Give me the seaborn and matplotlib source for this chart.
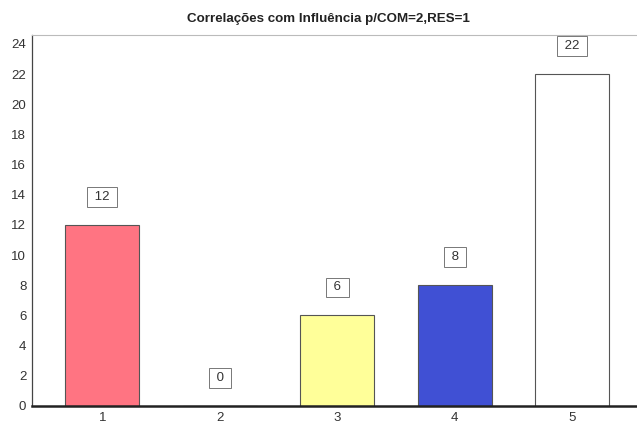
import seaborn as sns
import pandas as pd
import matplotlib.pyplot as plt

sns.set_style("white")
plt.rcParams['font.family'] = ['Liberation Sans', 'DejaVu Sans']

categories = ["1", "2", "3", "4", "5"]
values = [12, 0, 6, 8, 22]
colors = ["#ff7482", "#ffffff", "#ffff99", "#4050d4", "#ffffff"]
title = "Correlações com Influência p/COM=2,RES=1"

df = pd.DataFrame({"cat": categories, "val": values})

fig = plt.figure(figsize=(6.37, 4.26), dpi=100)
ax = fig.add_axes([0.050, 0.047, 0.95, 0.871])
sns.barplot(data=df, x="cat", y="val", hue="cat", palette=colors, legend=False,
            saturation=1, width=0.63, edgecolor="#555555", linewidth=0.8, ax=ax)

ax.set_xlim(-0.6, 4.55)
ax.set_ylim(0, 24.6)
ax.set_yticks(range(0, 25, 2))
ax.set_xlabel("")
ax.set_ylabel("")
ax.tick_params(axis="both", labelsize=9.5, colors="#333333", length=0, pad=4)

ax.spines["right"].set_visible(False)
ax.spines["top"].set_color("#bbbbbb")
ax.spines["top"].set_linewidth(0.8)
ax.spines["left"].set_color("#444444")
ax.spines["left"].set_linewidth(0.9)
ax.spines["bottom"].set_color("#222222")
ax.spines["bottom"].set_linewidth(1.8)

# value boxes above the bars
for i, v in enumerate(values):
    ax.annotate(f" {v} ", xy=(i, v), xytext=(0, 28), textcoords="offset pixels",
                ha="center", va="center", fontsize=9.5, color="#333333",
                bbox=dict(boxstyle="square,pad=0.3", fc="white", ec="#777777", lw=0.7))

fig.suptitle(title, x=0.515, y=0.97, fontsize=9.6, fontweight="bold", color="#222222")

plt.savefig("out.png", dpi=100)
